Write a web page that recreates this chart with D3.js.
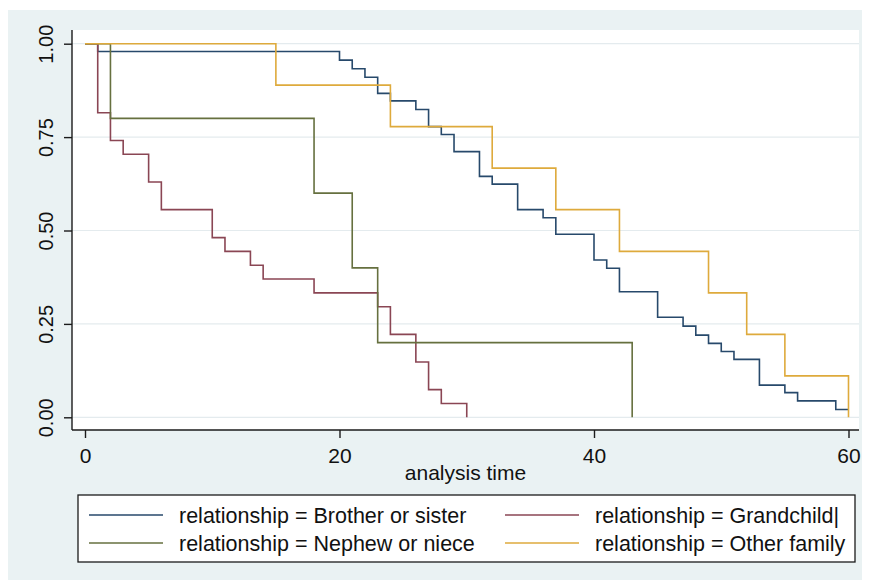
<!DOCTYPE html>
<html>
<head>
<meta charset="utf-8">
<script src="https://cdn.jsdelivr.net/npm/d3@7"></script>
<style>
  html, body { margin: 0; padding: 0; background: #ffffff; }
  svg { display: block; }
  text { font-family: "Liberation Sans", Arial, sans-serif; fill: #111; }
</style>
</head>
<body>
<svg id="chart" width="870" height="580"></svg>
<script>
// Kaplan-Meier survival estimates by relationship group: [analysis time, survival]
const brotherSister = [
  [0, 1.0], [1, 0.979], [20, 0.956], [21, 0.933], [22, 0.910], [23, 0.867],
  [24, 0.847], [26, 0.824], [27, 0.778], [28, 0.757], [29, 0.711], [31, 0.645],
  [32, 0.624], [34, 0.556], [36, 0.534], [37, 0.490], [40, 0.421], [41, 0.399],
  [42, 0.336], [45, 0.268], [47, 0.244], [48, 0.220], [49, 0.198], [50, 0.176],
  [51, 0.155], [53, 0.086], [55, 0.066], [56, 0.044], [59, 0.021], [60, 0.021]
];
const grandchild = [
  [0, 1.0], [1, 0.815], [2, 0.741], [3, 0.704], [5, 0.630], [6, 0.556],
  [10, 0.481], [11, 0.444], [13, 0.407], [14, 0.370], [18, 0.333], [23, 0.296],
  [24, 0.222], [26, 0.148], [27, 0.074], [28, 0.037], [30, 0.0]
];
const nephewNiece = [
  [0, 1.0], [2, 0.8], [18, 0.6], [21, 0.4], [23, 0.2], [43, 0.0]
];
const otherFamily = [
  [0, 1.0], [15, 0.889], [24, 0.778], [32, 0.667], [37, 0.556], [42, 0.444],
  [49, 0.333], [52, 0.222], [55, 0.111], [60, 0.0]
];

const seriesLabels = [
  "relationship = Brother or sister",
  "relationship = Grandchild|",
  "relationship = Nephew or niece",
  "relationship = Other family"
];
const seriesColors = ["#27496b", "#8a4654", "#66703f", "#deaa3c"];
const xTicks = [0, 20, 40, 60];
const yTicks = [0, 0.25, 0.5, 0.75, 1];
const yTickLabels = ["0.00", "0.25", "0.50", "0.75", "1.00"];
const xTitle = "analysis time";

const series = [brotherSister, grandchild, nephewNiece, otherFamily];

const svg = d3.select("#chart");

// graph region and plot region backgrounds
svg.append("rect").attr("x", 8).attr("y", 10).attr("width", 854).attr("height", 570)
  .attr("fill", "#eaf2f3");
const plot = { left: 72, right: 859, top: 30, bottom: 430 };
svg.append("rect").attr("x", plot.left).attr("y", plot.top)
  .attr("width", plot.right - plot.left).attr("height", plot.bottom - plot.top)
  .attr("fill", "#ffffff");

const x = d3.scaleLinear().domain([0, 60]).range([85, 848.5]);
const y = d3.scaleLinear().domain([0, 1]).range([417.3, 43.7]);

// horizontal grid lines
svg.append("g").selectAll("line").data(yTicks).join("line")
  .attr("x1", plot.left).attr("x2", plot.right)
  .attr("y1", d => y(d)).attr("y2", d => y(d))
  .attr("stroke", "#e4ebee").attr("stroke-width", 1.2);

// survival curves
const line = d3.line()
  .x(d => x(d[0]))
  .y(d => y(d[1]))
  .curve(d3.curveStepAfter);

svg.append("g").selectAll("path").data(series).join("path")
  .attr("d", d => line(d))
  .attr("fill", "none")
  .attr("stroke", (d, i) => seriesColors[i])
  .attr("stroke-width", 1.6);

// y axis
const yAxis = svg.append("g").attr("transform", `translate(${plot.left},0)`)
  .call(d3.axisLeft(y).tickValues(yTicks).tickSize(8).tickFormat((d, i) => yTickLabels[i]));
yAxis.select(".domain").attr("d", `M0,${plot.top}V${plot.bottom}`)
  .attr("stroke", "#1b1b1b").attr("stroke-width", 1.4);
yAxis.selectAll(".tick line").attr("stroke", "#1b1b1b").attr("stroke-width", 1.4);
yAxis.selectAll(".tick text")
  .attr("x", null).attr("dy", null)
  .attr("transform", "translate(-19,0) rotate(-90)")
  .attr("text-anchor", "middle")
  .attr("y", 0)
  .style("font-size", "20px")
  .style("font-family", "'Liberation Sans', Arial, sans-serif")
  .attr("fill", "#111");

// x axis
const xAxis = svg.append("g").attr("transform", `translate(0,${plot.bottom})`)
  .call(d3.axisBottom(x).tickValues(xTicks).tickSize(8).tickFormat(d3.format("d")));
xAxis.select(".domain").attr("d", `M${plot.left},0H${plot.right}`)
  .attr("stroke", "#1b1b1b").attr("stroke-width", 1.4);
xAxis.selectAll(".tick line").attr("stroke", "#1b1b1b").attr("stroke-width", 1.4);
xAxis.selectAll(".tick text")
  .attr("y", 33).attr("dy", null)
  .style("font-size", "21px")
  .style("font-family", "'Liberation Sans', Arial, sans-serif")
  .attr("fill", "#111");

svg.append("text")
  .attr("x", (plot.left + plot.right) / 2).attr("y", 480)
  .attr("text-anchor", "middle")
  .style("font-size", "21px")
  .text(xTitle);

// legend
const legend = svg.append("g");
legend.append("rect").attr("x", 78).attr("y", 495).attr("width", 777).attr("height", 67)
  .attr("fill", "#ffffff").attr("stroke", "#1b1b1b").attr("stroke-width", 1.3);
const cols = [89, 505];
const rows = [515, 543];
seriesLabels.forEach((label, i) => {
  const cx = cols[i % 2];
  const cy = rows[Math.floor(i / 2)];
  legend.append("line")
    .attr("x1", cx).attr("x2", cx + 74).attr("y1", cy).attr("y2", cy)
    .attr("stroke", seriesColors[i]).attr("stroke-width", 1.6);
  legend.append("text")
    .attr("x", cx + 90).attr("y", cy + 8)
    .style("font-size", "21.5px")
    .text(label);
});
</script>
</body>
</html>
